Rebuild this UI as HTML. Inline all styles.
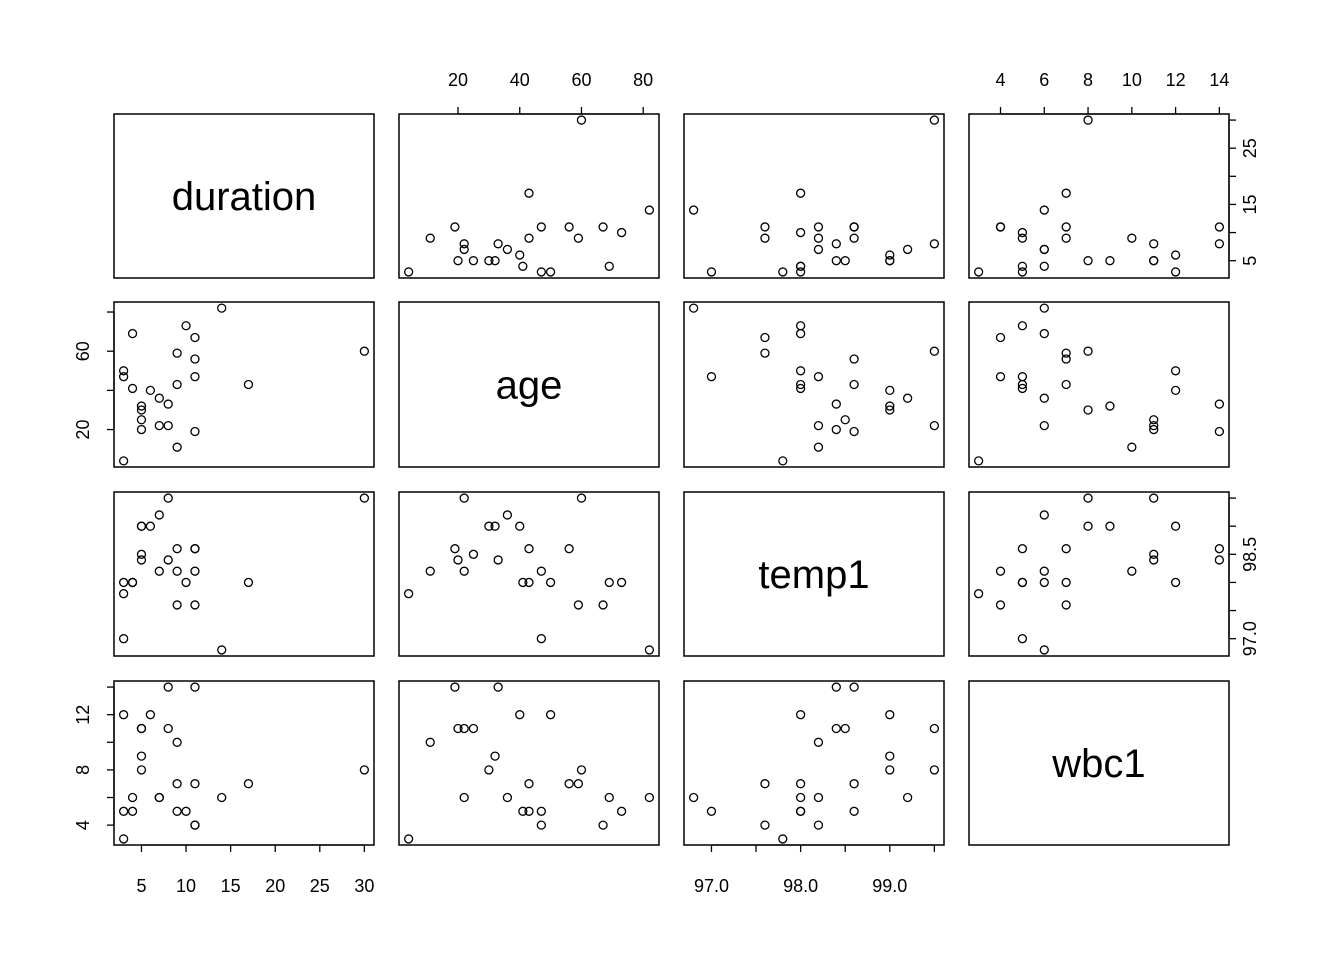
<!DOCTYPE html>
<html><head><meta charset="utf-8"><style>
html,body{margin:0;padding:0;background:#fff;}
svg{display:block;font-family:"Liberation Sans",Arial,sans-serif;}
</style></head><body>
<svg id="chart" width="1344" height="960" viewBox="0 0 1344 960" xmlns="http://www.w3.org/2000/svg"></svg>
<script>
const varNames = ["duration","age","temp1","wbc1"];
const duration = [5,10,6,11,5,14,30,11,17,3,9,3,8,8,5,5,7,4,3,7,9,11,11,9,4];
const age = [30,73,40,47,25,82,60,56,43,50,59,4,22,33,20,32,36,69,47,22,11,19,67,43,41];
const temp1 = [99.0,98.0,99.0,98.2,98.5,96.8,99.5,98.6,98.0,98.0,97.6,97.8,99.5,98.4,98.4,99.0,99.2,98.0,97.0,98.2,98.2,98.6,97.6,98.6,98.0];
const wbc1 = [8,5,12,4,11,6,8,7,7,12,7,3,11,14,11,9,6,6,5,6,10,14,4,5,5];
const ticksDuration = [5,10,15,20,25,30];
const labelsDurationBottom = [5,10,15,20,25,30];
const labelsDurationRight = [5,15,25];
const ticksAge = [20,40,60,80];
const labelsAgeTop = [20,40,60,80];
const labelsAgeLeft = [20,60];
const ticksTemp = [97.0,97.5,98.0,98.5,99.0,99.5];
const labelsTempBottom = [97.0,98.0,99.0];
const labelsTempRight = [97.0,98.5];
const ticksWbc = [4,6,8,10,12,14];
const labelsWbcTop = [4,6,8,10,12,14];
const labelsWbcLeft = [4,8,12];

const data = [duration, age, temp1, wbc1];
const svg = document.getElementById('chart');
const NS = "http://www.w3.org/2000/svg";
const px = [[114,374],[399,659],[684,944],[969,1229]];
const py = [[114,278],[302,467],[492,656],[681,845]];
function rng(a){const mn=Math.min(...a),mx=Math.max(...a),e=(mx-mn)*0.04;return [mn-e,mx+e];}
const ranges = data.map(rng);
function xs(val,v,j){const r=ranges[v];return px[j][0]+(val-r[0])/(r[1]-r[0])*(px[j][1]-px[j][0]);}
function ys(val,v,i){const r=ranges[v];return py[i][1]-(val-r[0])/(r[1]-r[0])*(py[i][1]-py[i][0]);}
function el(tag,attrs,parent){const e=document.createElementNS(NS,tag);for(const k in attrs)e.setAttribute(k,attrs[k]);(parent||svg).appendChild(e);return e;}
function fmt(v,dec){return dec?v.toFixed(1):String(v);}

for(let i=0;i<4;i++){for(let j=0;j<4;j++){
  const g=el('g',{});
  
  
  const r=el('rect',{x:px[j][0],y:py[i][0],width:px[j][1]-px[j][0],height:py[i][1]-py[i][0],fill:'none',stroke:'#000','stroke-width':1.5},g);
  
  
  if(i===j){
    const t=el('text',{x:(px[j][0]+px[j][1])/2,y:(py[i][0]+py[i][1])/2+14,'text-anchor':'middle','font-size':40},g);
    t.textContent=varNames[i];
    
    
  } else {
    for(let k=0;k<data[0].length;k++){
      const c=el('circle',{cx:xs(data[j][k],j,j),cy:ys(data[i][k],i,i),r:4,fill:'none',stroke:'#000','stroke-width':1.3},g);
      
      
    }
  }
}}

function axis(side,idx,v,ticks,labels,dec){
  const g=el('g',{'font-size':18});
  
  
  if(side==='bottom'||side==='top'){
    const y0=side==='bottom'?py[3][1]:py[0][0];
    const d=side==='bottom'?7:-7;
    const p0=xs(ticks[0],v,idx),p1=xs(ticks[ticks.length-1],v,idx);
    el('line',{x1:p0,x2:p1,y1:y0,y2:y0,stroke:'#000','stroke-width':1.3},g);
    ticks.forEach(t=>{const x=xs(t,v,idx);el('line',{x1:x,x2:x,y1:y0,y2:y0+d,stroke:'#000','stroke-width':1.3},g);});
    labels.forEach(t=>{const x=xs(t,v,idx);const tx=el('text',{x:x,y:side==='bottom'?y0+47:y0-28,'text-anchor':'middle'},g);tx.textContent=fmt(t,dec);
      
      });
  } else {
    const x0=side==='left'?px[0][0]:px[3][1];
    const d=side==='left'?-7:7;
    const p0=ys(ticks[0],v,idx),p1=ys(ticks[ticks.length-1],v,idx);
    el('line',{x1:x0,x2:x0,y1:p0,y2:p1,stroke:'#000','stroke-width':1.3},g);
    ticks.forEach(t=>{const y=ys(t,v,idx);el('line',{x1:x0,x2:x0+d,y1:y,y2:y,stroke:'#000','stroke-width':1.3},g);});
    labels.forEach(t=>{const y=ys(t,v,idx);const lx=side==='left'?x0-25:x0+27;
      const tx=el('text',{x:lx,y:y,'text-anchor':'middle',transform:'rotate(-90 '+lx+' '+y+')'},g);tx.textContent=fmt(t,dec);
      
      });
  }
}
axis('bottom',0,0,ticksDuration,labelsDurationBottom,false);
axis('bottom',2,2,ticksTemp,labelsTempBottom,true);
axis('top',1,1,ticksAge,labelsAgeTop,false);
axis('top',3,3,ticksWbc,labelsWbcTop,false);
axis('left',1,1,ticksAge,labelsAgeLeft,false);
axis('left',3,3,ticksWbc,labelsWbcLeft,false);
axis('right',0,0,ticksDuration,labelsDurationRight,false);
axis('right',2,2,ticksTemp,labelsTempRight,true);
</script>
</body></html>
